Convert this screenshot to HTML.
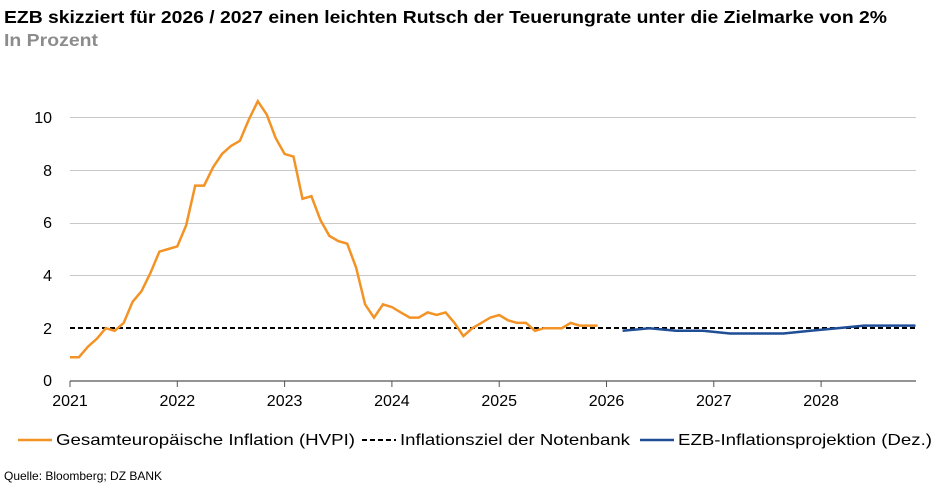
<!DOCTYPE html>
<html><head><meta charset="utf-8"><style>
body{margin:0;background:#fff;width:941px;height:493px;overflow:hidden;font-family:"Liberation Sans",sans-serif}
</style></head><body>
<svg id="s" width="941" height="493" xmlns="http://www.w3.org/2000/svg" font-family="Liberation Sans, sans-serif">
<text x="4" y="23" font-size="17.5" font-weight="bold" fill="#000" textLength="883" lengthAdjust="spacingAndGlyphs">EZB skizziert für 2026 / 2027 einen leichten Rutsch der Teuerungrate unter die Zielmarke von 2%</text>
<text x="4" y="46" font-size="17.5" font-weight="bold" fill="#8c8c8c" textLength="94" lengthAdjust="spacingAndGlyphs">In Prozent</text>
<g stroke="#c8c8c8" stroke-width="1">
<line x1="70" x2="916" y1="117.5" y2="117.5"/><line x1="70" x2="916" y1="170.5" y2="170.5"/>
<line x1="70" x2="916" y1="223.5" y2="223.5"/><line x1="70" x2="916" y1="275.5" y2="275.5"/>
</g>
<line x1="70" x2="916" y1="381" y2="381" stroke="#555" stroke-width="1.3"/>
<g font-size="16" fill="#000" text-anchor="end">
<text x="52" y="386">0</text><text x="52" y="334">2</text><text x="52" y="281">4</text>
<text x="52" y="228">6</text><text x="52" y="176">8</text><text x="52" y="123">10</text>
</g>
<g id="xt" font-size="16" fill="#000" text-anchor="middle"></g>
<line x1="70" x2="916" y1="328" y2="328" stroke="#000" stroke-width="2" stroke-dasharray="5,3"/>
<polyline id="o" fill="none" stroke="#f39325" stroke-width="2.5"/>
<polyline id="b" fill="none" stroke="#1f4e96" stroke-width="2.5"/>
<line x1="18" x2="52" y1="440" y2="440" stroke="#f39325" stroke-width="2.5"/>
<text x="56" y="445" font-size="16" textLength="299" lengthAdjust="spacingAndGlyphs">Gesamteuropäische Inflation (HVPI)</text>
<line x1="362" x2="396" y1="440" y2="440" stroke="#000" stroke-width="2" stroke-dasharray="5,3"/>
<text x="400" y="445" font-size="16" textLength="230" lengthAdjust="spacingAndGlyphs">Inflationsziel der Notenbank</text>
<line x1="640" x2="674" y1="440" y2="440" stroke="#1f4e96" stroke-width="2.5"/>
<text x="678" y="445" font-size="16" textLength="254" lengthAdjust="spacingAndGlyphs">EZB-Inflationsprojektion (Dez.)</text>
<text x="4" y="480" font-size="12">Quelle: Bloomberg; DZ BANK</text>
</svg>
<script>
var X=function(t){return 70+t*107.3},Y=function(v){return 381-v*26.4};
var d=[0.9,0.9,1.3,1.6,2.0,1.9,2.2,3.0,3.4,4.1,4.9,5.0,5.1,5.9,7.4,7.4,8.1,8.6,8.9,9.1,9.9,10.6,10.1,9.2,8.6,8.5,6.9,7.0,6.1,5.5,5.3,5.2,4.3,2.9,2.4,2.9,2.8,2.6,2.4,2.4,2.6,2.5,2.6,2.2,1.7,2.0,2.2,2.4,2.5,2.3,2.2,2.2,1.9,2.0,2.0,2.0,2.2,2.1,2.1,2.1];
document.getElementById('o').setAttribute('points',d.map(function(v,i){return X(i/12).toFixed(1)+','+Y(v).toFixed(1)}).join(' '));
var b=[[5.15,1.9],[5.4,2.0],[5.65,1.9],[5.9,1.9],[6.15,1.8],[6.4,1.8],[6.65,1.8],[6.9,1.9],[7.15,2.0],[7.4,2.1],[7.65,2.1],[7.88,2.1]];
document.getElementById('b').setAttribute('points',b.map(function(p){return X(p[0]).toFixed(1)+','+Y(p[1]).toFixed(1)}).join(' '));
var g=document.getElementById('xt'),h='';
for(var i=0;i<8;i++){var x=X(i);h+='<line x1="'+x+'" x2="'+x+'" y1="381" y2="387" stroke="#555"/><text x="'+x+'" y="406">'+(2021+i)+'</text>';}
g.innerHTML=h;
</script>
</body></html>
